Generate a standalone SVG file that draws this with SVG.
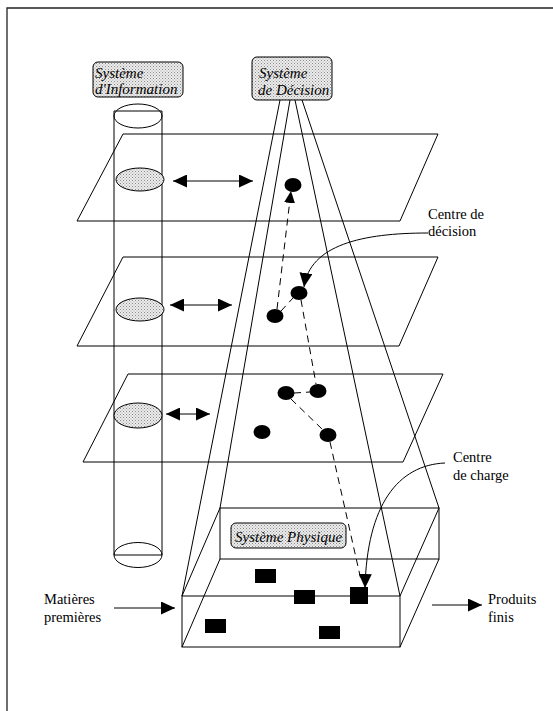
<svg xmlns="http://www.w3.org/2000/svg" width="553" height="711" viewBox="0 0 553 711">
<style>
.ln{stroke:#000;stroke-width:1;fill:none}
.dash{stroke:#000;stroke-width:1;fill:none;stroke-dasharray:7,5}
.lbl{font-family:"Liberation Serif","Times New Roman","DejaVu Serif",serif;font-size:14.5px;fill:#000}
.it{font-family:"Liberation Serif","Times New Roman","DejaVu Serif",serif;font-size:15px;font-style:italic;fill:#000}
.stip{fill:url(#stip);stroke:#000;stroke-width:1}
.dot{fill:#000}
</style>
<defs>
<pattern id="stip" patternUnits="userSpaceOnUse" width="3" height="3">
<rect width="3" height="3" fill="#ececec"/>
<rect x="0" y="0" width="1" height="1" fill="#8a8a8a"/>
<rect x="1.5" y="1.5" width="1" height="1" fill="#a0a0a0"/>
</pattern>
<marker id="ah" markerUnits="userSpaceOnUse" markerWidth="14" markerHeight="13" refX="14" refY="6.5" orient="auto-start-reverse">
<path d="M0,0 L14,6.5 L0,13 z" fill="#000"/>
</marker>
<marker id="ahs" markerUnits="userSpaceOnUse" markerWidth="12" markerHeight="11" refX="12" refY="5.5" orient="auto">
<path d="M0,0 L12,5.5 L0,11 z" fill="#000"/>
</marker>
</defs>
<rect width="553" height="711" fill="#fff"/>
<g id="frame">
<path d="M7,711 L7,8 L553,8" fill="none" stroke="#222" stroke-width="1.3"/>
</g>
<g id="planes">
<polygon class="ln" points="123,134 438,134 400,221 77,221"/>
<polygon class="ln" points="123,257 438,257 399,346 77,346"/>
<polygon class="ln" points="128,374 443,374 403,462 83,462"/>
</g>
<g id="cylinder">
<ellipse class="ln" cx="138" cy="116" rx="24" ry="12"/>
<line class="ln" x1="114" y1="111" x2="162" y2="111"/>
<line class="ln" x1="114" y1="111" x2="114" y2="555"/>
<line class="ln" x1="162" y1="111" x2="162" y2="555"/>
<ellipse class="ln" cx="138" cy="555" rx="24" ry="12.5"/>
<line class="ln" x1="114" y1="555" x2="162" y2="555"/>
</g>
<g id="pyramid">
<line class="ln" x1="280" y1="100" x2="182" y2="596"/>
<line class="ln" x1="290" y1="100" x2="220" y2="508"/>
<line class="ln" x1="295" y1="100" x2="400" y2="596"/>
<line class="ln" x1="302" y1="100" x2="439" y2="508"/>
</g>
<g id="physical-box">
<rect class="ln" x="220" y="508" width="219" height="51"/>
<rect class="ln" x="182" y="596" width="218" height="51"/>
<line class="ln" x1="182" y1="596" x2="220" y2="508"/>
<line class="ln" x1="400" y1="596" x2="439" y2="508"/>
<line class="ln" x1="182" y1="647" x2="220" y2="559"/>
<line class="ln" x1="400" y1="647" x2="439" y2="559"/>
</g>
<g id="sys-info">
<rect class="stip" x="93" y="62" width="90" height="35" rx="5"/>
<text class="it" x="95" y="78">Système</text>
<text class="it" x="95" y="94">d'Information</text>
</g>
<g id="sys-decision">
<rect class="stip" x="252" y="57" width="80" height="43" rx="5"/>
<text class="it" x="259" y="78">Système</text>
<text class="it" x="258" y="95">de Décision</text>
</g>
<g id="sys-physique">
<rect class="stip" x="231" y="523" width="115" height="25" rx="5"/>
<text class="it" x="235" y="542">Système Physique</text>
</g>
<g id="info-ellipses">
<ellipse class="stip" cx="140" cy="179.5" rx="24" ry="11.5"/>
<ellipse class="stip" cx="140" cy="309.5" rx="24" ry="11.5"/>
<ellipse class="stip" cx="138" cy="415.5" rx="24" ry="12.5"/>
</g>
<g id="decision-centres">
<ellipse class="dot" cx="293" cy="185" rx="8.5" ry="7"/>
<ellipse class="dot" cx="299" cy="293" rx="8.5" ry="7"/>
<ellipse class="dot" cx="275" cy="316" rx="8.5" ry="7"/>
<ellipse class="dot" cx="286" cy="393" rx="8.5" ry="7"/>
<ellipse class="dot" cx="318" cy="391" rx="8.5" ry="7"/>
<ellipse class="dot" cx="262" cy="432" rx="8.5" ry="7"/>
<ellipse class="dot" cx="328" cy="435" rx="8.5" ry="7"/>
</g>
<g id="load-centres">
<rect class="dot" x="255" y="569" width="21" height="14"/>
<rect class="dot" x="294" y="590" width="21" height="14"/>
<rect class="dot" x="350" y="587" width="18" height="17"/>
<rect class="dot" x="205" y="619" width="21" height="14"/>
<rect class="dot" x="319" y="626" width="21" height="13"/>
</g>
<g id="connectors">
<line class="ln" x1="173" y1="181" x2="253" y2="181" marker-start="url(#ah)" marker-end="url(#ah)"/>
<line class="ln" x1="170" y1="305" x2="232" y2="305" marker-start="url(#ah)" marker-end="url(#ah)"/>
<line class="ln" x1="166" y1="414" x2="210" y2="414" marker-start="url(#ah)" marker-end="url(#ah)"/>
<line class="dash" x1="277" y1="309" x2="291" y2="191" marker-end="url(#ahs)"/>
<line class="dash" x1="281" y1="311" x2="293" y2="298"/>
<line class="dash" x1="301" y1="300" x2="316" y2="384"/>
<line class="dash" x1="294" y1="393" x2="310" y2="392"/>
<line class="dash" x1="291" y1="399" x2="323" y2="430"/>
<line class="dash" x1="330" y1="442" x2="361" y2="580"/>
<path class="ln" d="M428,233 C362,233 310,245 304,287" marker-end="url(#ah)"/>
<path class="ln" d="M445,463 C398,465 367,505 365,588" marker-end="url(#ah)"/>
<line class="ln" x1="114" y1="608" x2="175" y2="608" marker-end="url(#ah)"/>
<line class="ln" x1="432" y1="605" x2="482" y2="605" marker-end="url(#ah)"/>
</g>
<g id="labels">
<text class="lbl" x="428" y="219">Centre de</text>
<text class="lbl" x="428" y="236">décision</text>
<text class="lbl" x="453" y="462">Centre</text>
<text class="lbl" x="453" y="480">de charge</text>
<text class="lbl" x="44" y="604">Matières</text>
<text class="lbl" x="44" y="622">premières</text>
<text class="lbl" x="488" y="604">Produits</text>
<text class="lbl" x="488" y="622">finis</text>
</g>
</svg>
